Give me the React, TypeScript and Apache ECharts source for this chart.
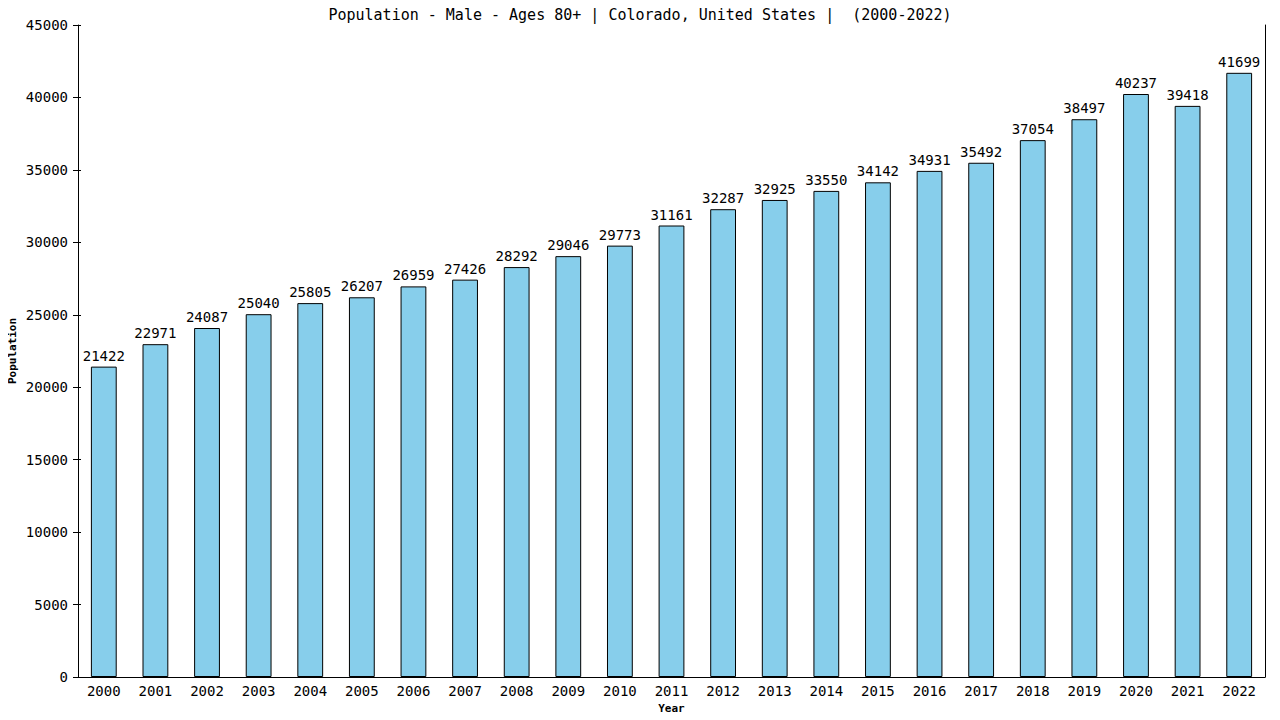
import React, { useEffect, useRef } from 'react';
import * as echarts from 'echarts';

const years = [
  '2000', '2001', '2002', '2003', '2004', '2005', '2006', '2007', '2008', '2009', '2010', '2011',
  '2012', '2013', '2014', '2015', '2016', '2017', '2018', '2019', '2020', '2021', '2022',
];
const population = [
  21422, 22971, 24087, 25040, 25805, 26207, 26959, 27426, 28292, 29046, 29773, 31161,
  32287, 32925, 33550, 34142, 34931, 35492, 37054, 38497, 40237, 39418, 41699,
];
const yMin = 0;
const yMax = 45000;
const yStep = 5000;

const mono = 'DejaVu Sans Mono, monospace';

const App: React.FC = () => {
  const chartRef = useRef<HTMLDivElement>(null);

  useEffect(() => {
    if (!chartRef.current) return;
    const chart = echarts.init(chartRef.current, null, { renderer: 'svg' });

    const hiddenAxis = {
      type: 'value',
      min: yMin,
      max: yMax,
      interval: yStep,
      axisLabel: { show: false },
      splitLine: { show: false },
    };

    chart.setOption({
      animation: false,
      backgroundColor: '#ffffff',
      title: {
        text: 'Population - Male - Ages 80+ | Colorado, United States |  (2000-2022)',
        left: 'center',
        top: 2,
        textStyle: { fontFamily: mono, fontSize: 15, fontWeight: 'normal', color: '#000' },
      },
      grid: { left: 78, right: 15, top: 25, bottom: 43, outerBoundsMode: 'none', containLabel: false },
      xAxis: {
        type: 'category',
        data: years,
        name: 'Year',
        nameLocation: 'middle',
        nameGap: 26,
        nameMoveOverlap: false,
        nameTextStyle: { fontFamily: mono, fontSize: 11, fontWeight: 'bold', color: '#000' },
        axisLine: { lineStyle: { color: '#000', width: 1 } },
        axisTick: { show: false },
        axisLabel: { fontFamily: mono, fontSize: 14, color: '#000', margin: 7 },
      },
      yAxis: [
        {
          type: 'value',
          min: yMin,
          max: yMax,
          interval: yStep,
          name: 'Population',
          nameLocation: 'middle',
          nameGap: 60,
          nameMoveOverlap: false,
          nameTextStyle: { fontFamily: mono, fontSize: 11, fontWeight: 'bold', color: '#000' },
          axisLine: { show: true, lineStyle: { color: '#000', width: 1 } },
          axisTick: { show: true, length: 5, lineStyle: { color: '#000' } },
          axisLabel: {
            fontFamily: mono,
            fontSize: 14,
            color: '#000',
            margin: 10,
            formatter: (v: number) => String(v),
          },
          splitLine: { show: false },
        },
        {
          ...hiddenAxis,
          position: 'left',
          axisLine: { show: false },
          axisTick: { show: true, inside: true, length: 3, lineStyle: { color: '#000' } },
        },
        {
          ...hiddenAxis,
          position: 'right',
          axisLine: { show: true, lineStyle: { color: '#000', width: 1 } },
          axisTick: { show: false },
        },
      ],
      series: [
        {
          type: 'bar',
          data: population,
          yAxisIndex: 0,
          barWidth: '50%',
          itemStyle: { color: '#87ceeb', borderColor: '#000', borderWidth: 1 },
          label: {
            show: true,
            position: 'top',
            distance: 4,
            fontFamily: mono,
            fontSize: 14,
            color: '#000',
          },
        },
      ],
    });

    return () => {
      chart.dispose();
    };
  }, []);

  return <div ref={chartRef} style={{ width: '1280px', height: '720px', margin: '-8px' }} />;
};

export default App;
